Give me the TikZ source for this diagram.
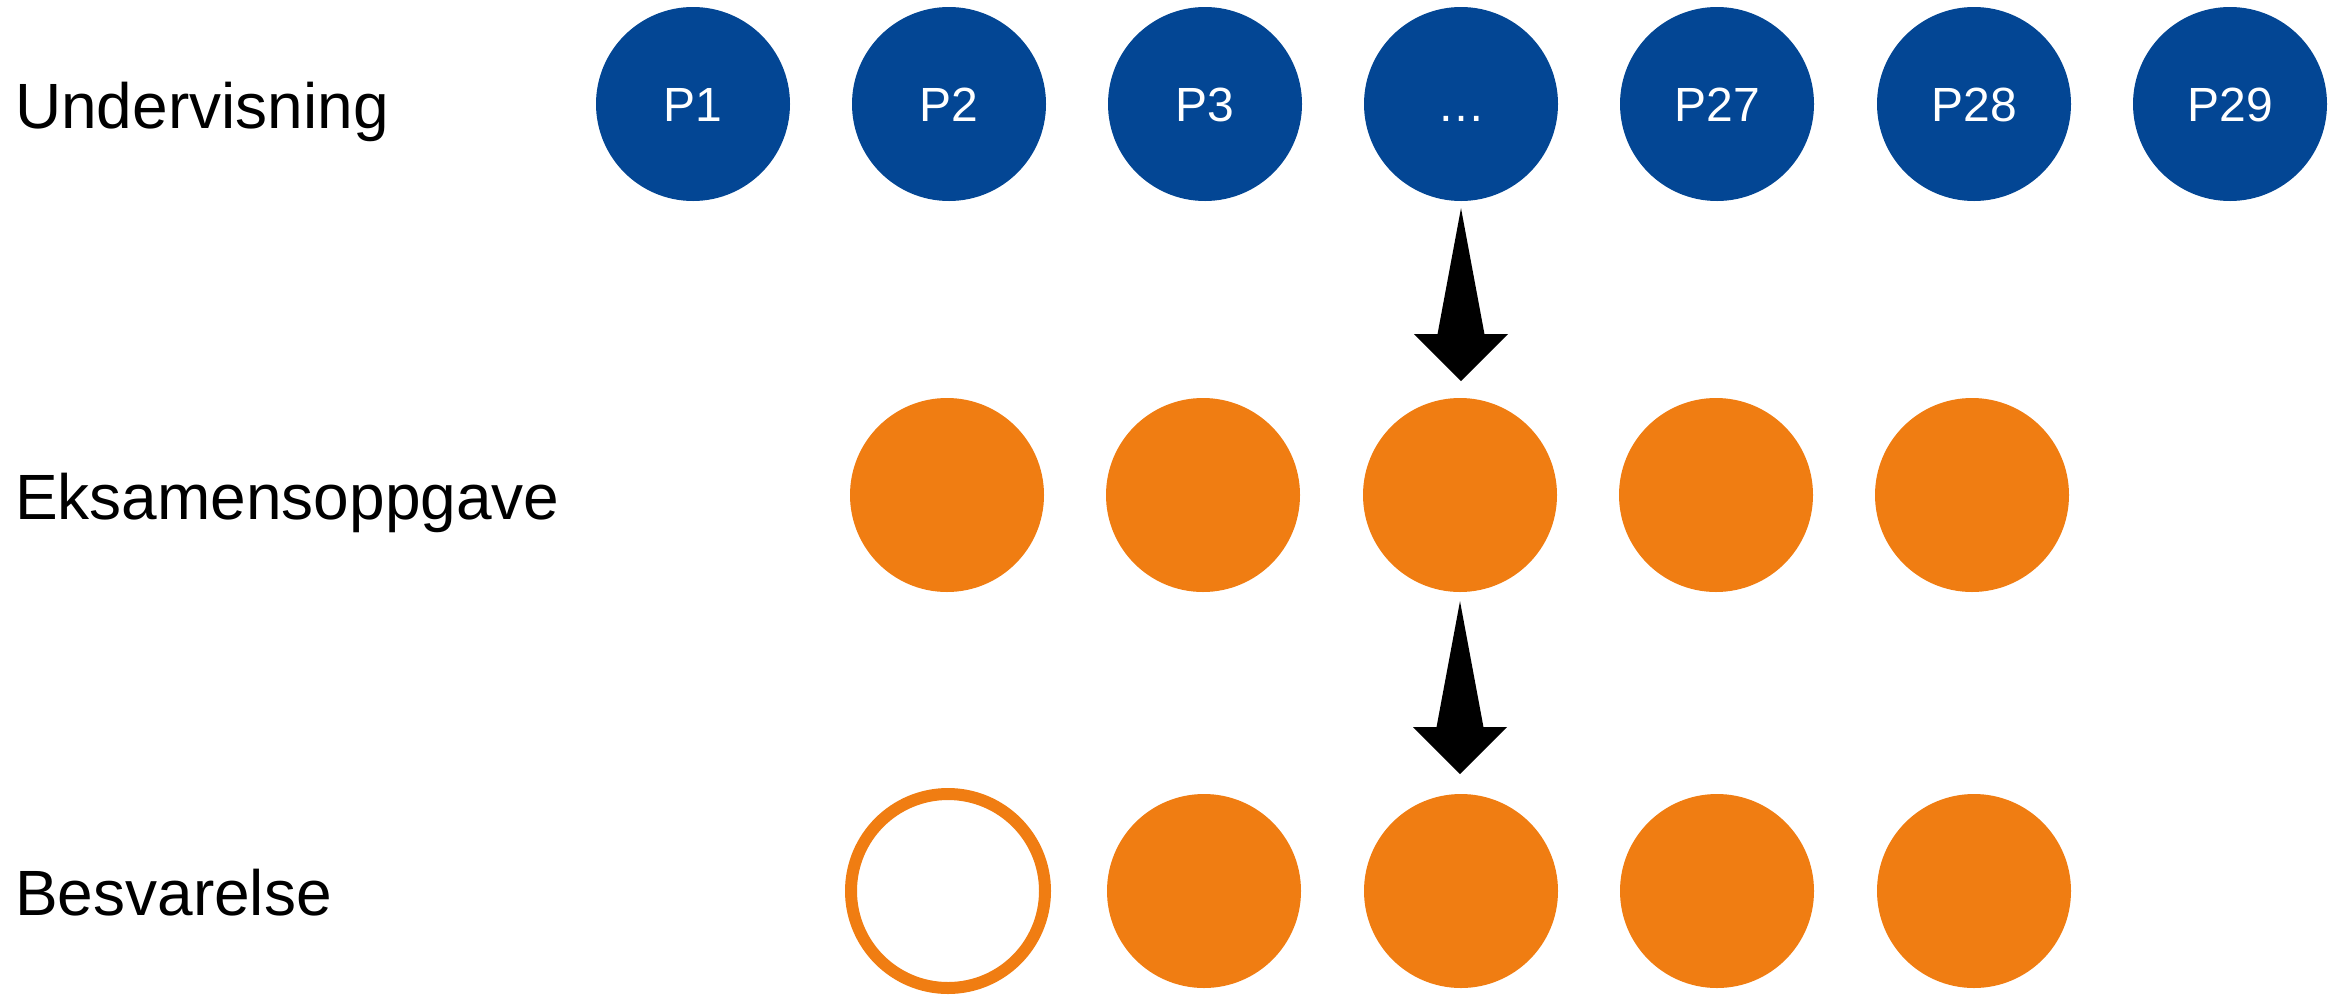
\documentclass[tikz,border=0pt]{standalone}
\usepackage{fontspec}
\setmainfont{Liberation Sans}
\usetikzlibrary{calc}
\definecolor{pblue}{RGB}{3,70,148}
\definecolor{porange}{RGB}{240,125,18}
\begin{document}
\begin{tikzpicture}[x=1pt,y=-1pt,
  rowlabel/.style={anchor=base west,inner sep=0pt,font=\fontsize{64}{76}\selectfont},
  pcircle/.style={circle,fill=pblue,minimum size=194pt,inner sep=0pt,text=white,
    font=\fontsize{48}{56}\selectfont,text height=34pt,text depth=0pt},
  ocircle/.style={circle,fill=porange,minimum size=194pt,inner sep=0pt},
  hollow/.style={circle,draw=porange,line width=12pt,fill=white,minimum size=194pt,inner sep=0pt},
  bigarrow/.style={fill=black}]
\useasboundingbox (0,0) rectangle (2338,994);
\node[rowlabel] (l1) at (15,128) {Undervisning};
\node[rowlabel] (l2) at (15,519) {Eksamensoppgave};
\node[rowlabel] (l3) at (15,915) {Besvarelse};
\node[pcircle] (p1) at (693,104) {P1};
\node[pcircle] (p2) at (949,104) {P2};
\node[pcircle] (p3) at (1205,104) {P3};
\node[pcircle] (pd) at (1461,104) {…};
\node[pcircle] (p27) at (1717,104) {P27};
\node[pcircle] (p28) at (1974,104) {P28};
\node[pcircle] (p29) at (2230,104) {P29};
\node[ocircle] (e1) at (947,495) {};
\node[ocircle] (e2) at (1203,495) {};
\node[ocircle] (e3) at (1460,495) {};
\node[ocircle] (e4) at (1716,495) {};
\node[ocircle] (e5) at (1972,495) {};
\node[hollow] (b1) at (948,891) {};
\node[ocircle] (b2) at (1204,891) {};
\node[ocircle] (b3) at (1461,891) {};
\node[ocircle] (b4) at (1717,891) {};
\node[ocircle] (b5) at (1974,891) {};
\coordinate (a1) at ($(pd.south)+(0,7)$);
\coordinate (a2) at ($(e3.south)+(0,9)$);
\foreach \t in {a1,a2}{
  \fill[bigarrow] (\t) -- ++(23.5,126) -- ++(23.5,0) -- ++(-47,47) -- ++(-47,-47) -- ++(23.5,0) -- cycle;
}
\end{tikzpicture}
\end{document}
